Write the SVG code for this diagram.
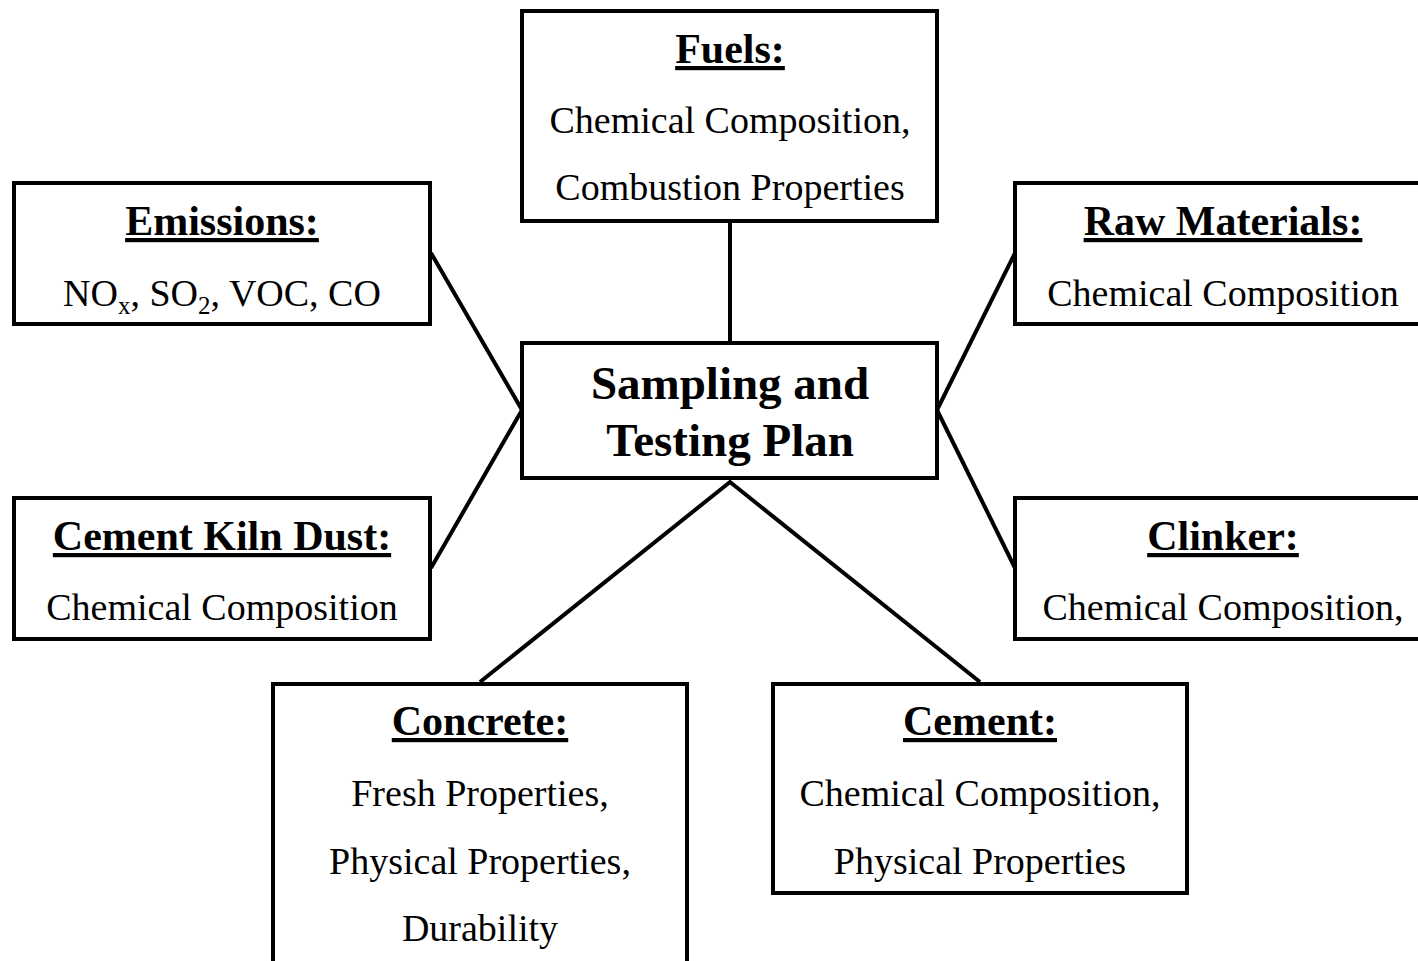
<svg xmlns="http://www.w3.org/2000/svg" width="1418" height="961" viewBox="0 0 1418 961">
<style>
.box{fill:#fff;stroke:#000;stroke-width:4}
.t{font-family:"Liberation Serif","Times New Roman",serif;font-weight:bold;font-size:42px;text-anchor:middle;text-decoration:underline}
.b{font-family:"Liberation Serif","Times New Roman",serif;font-size:38px;text-anchor:middle}
.c{font-family:"Liberation Serif","Times New Roman",serif;font-weight:bold;font-size:47px;text-anchor:middle}
.ln{stroke:#000;stroke-width:4;fill:none}
</style>
<rect width="1418" height="961" fill="#fff"/>
<g id="connectors">
<line class="ln" x1="730" y1="222" x2="730" y2="342"/>
<line class="ln" x1="431" y1="253" x2="522" y2="410"/>
<line class="ln" x1="431" y1="568" x2="522" y2="410"/>
<line class="ln" x1="1015" y1="253" x2="937" y2="410"/>
<line class="ln" x1="1015" y1="568" x2="937" y2="410"/>
<polyline class="ln" points="480,682 730,482 980,682"/>
</g>
<g id="fuels">
<rect class="box" x="522" y="11" width="415" height="210"/>
<text class="t" x="730" y="63">Fuels:</text>
<text class="b" x="730" y="133">Chemical Composition,</text>
<text class="b" x="730" y="200">Combustion Properties</text>
</g>
<g id="center">
<rect class="box" x="522" y="343" width="415" height="135"/>
<text class="c" x="730" y="399">Sampling and</text>
<text class="c" x="730" y="456">Testing Plan</text>
</g>
<g id="emissions">
<rect class="box" x="14" y="183" width="416" height="141"/>
<text class="t" x="222" y="235">Emissions:</text>
<text class="b" x="222" y="306">NO<tspan font-size="25" dy="8">x</tspan><tspan dy="-8">, SO</tspan><tspan font-size="25" dy="8">2</tspan><tspan dy="-8">, VOC, CO</tspan></text>
</g>
<g id="ckd">
<rect class="box" x="14" y="498" width="416" height="141"/>
<text class="t" x="222" y="550">Cement Kiln Dust:</text>
<text class="b" x="222" y="620">Chemical Composition</text>
</g>
<g id="raw">
<rect class="box" x="1015" y="183" width="420" height="141"/>
<text class="t" x="1223" y="235">Raw Materials:</text>
<text class="b" x="1223" y="306">Chemical Composition</text>
</g>
<g id="clinker">
<rect class="box" x="1015" y="498" width="420" height="141"/>
<text class="t" x="1223" y="550">Clinker:</text>
<text class="b" x="1223" y="620">Chemical Composition,</text>
</g>
<g id="concrete">
<rect class="box" x="273" y="684" width="414" height="300"/>
<text class="t" x="480" y="735">Concrete:</text>
<text class="b" x="480" y="806">Fresh Properties,</text>
<text class="b" x="480" y="874">Physical Properties,</text>
<text class="b" x="480" y="941">Durability</text>
</g>
<g id="cement">
<rect class="box" x="773" y="684" width="414" height="209"/>
<text class="t" x="980" y="735">Cement:</text>
<text class="b" x="980" y="806">Chemical Composition,</text>
<text class="b" x="980" y="874">Physical Properties</text>
</g>
</svg>
